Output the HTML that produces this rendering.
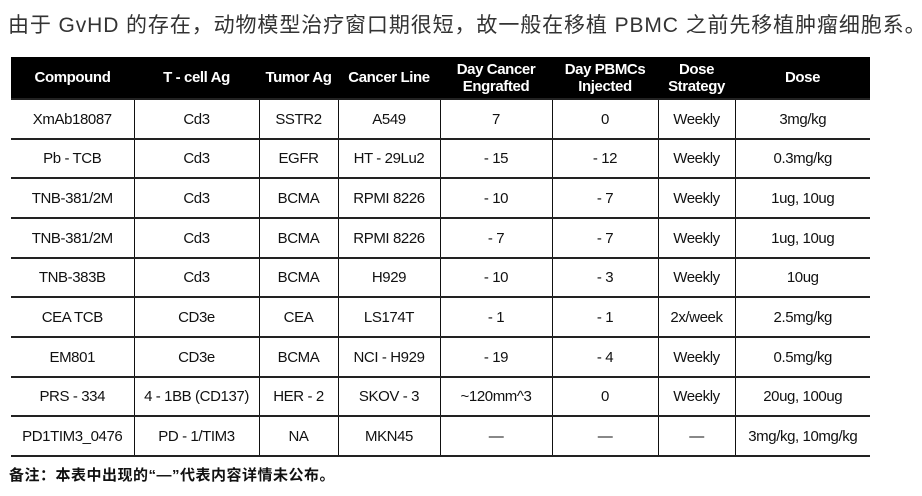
<!DOCTYPE html>
<html><head><meta charset="utf-8"><style>
body{margin:0;width:922px;height:496px;background:#fff;font-family:"Liberation Sans","Noto Sans CJK SC",sans-serif;position:relative;overflow:hidden}
.t{position:absolute;left:8px;top:9px;font-size:21px;color:#333;white-space:nowrap;letter-spacing:0.9px}
table{position:absolute;left:11px;top:57px;border-collapse:collapse;table-layout:fixed;width:859px}
th{background:#000;color:#fff;font-size:15px;font-weight:bold;height:41px;padding:0;line-height:17px;letter-spacing:-0.4px}
td{height:38px;border:1px solid #111;border-top:2px solid #222;text-align:center;font-size:15px;color:#111;padding:0;white-space:nowrap;letter-spacing:-0.4px}
tr.s td{height:37px}
td:first-child{border-left:none}td:last-child{border-right:none}
tr:last-child td{border-bottom:2px solid #222}
.f{position:absolute;left:9px;top:464px;font-size:15px;font-weight:bold;color:#111;letter-spacing:0.5px}
</style></head><body>
<div class="t">由于 GvHD 的存在，动物模型治疗窗口期很短，故一般在移植 PBMC 之前先移植肿瘤细胞系。</div>
<table>
<colgroup><col style="width:123px"><col style="width:125px"><col style="width:79px"><col style="width:102px"><col style="width:112px"><col style="width:106px"><col style="width:77px"><col style="width:135px"></colgroup>
<tr><th>Compound</th><th>T - cell Ag</th><th>Tumor Ag</th><th>Cancer Line</th><th>Day Cancer<br>Engrafted</th><th>Day PBMCs<br>Injected</th><th>Dose<br>Strategy</th><th>Dose</th></tr>
<tr><td>XmAb18087</td><td>Cd3</td><td>SSTR2</td><td>A549</td><td>7</td><td>0</td><td>Weekly</td><td>3mg/kg</td></tr>
<tr class="s"><td>Pb - TCB</td><td>Cd3</td><td>EGFR</td><td>HT - 29Lu2</td><td>- 15</td><td>- 12</td><td>Weekly</td><td>0.3mg/kg</td></tr>
<tr><td>TNB-381/2M</td><td>Cd3</td><td>BCMA</td><td>RPMI 8226</td><td>- 10</td><td>- 7</td><td>Weekly</td><td>1ug, 10ug</td></tr>
<tr><td>TNB-381/2M</td><td>Cd3</td><td>BCMA</td><td>RPMI 8226</td><td>- 7</td><td>- 7</td><td>Weekly</td><td>1ug, 10ug</td></tr>
<tr class="s"><td>TNB-383B</td><td>Cd3</td><td>BCMA</td><td>H929</td><td>- 10</td><td>- 3</td><td>Weekly</td><td>10ug</td></tr>
<tr><td>CEA TCB</td><td>CD3e</td><td>CEA</td><td>LS174T</td><td>- 1</td><td>- 1</td><td>2x/week</td><td>2.5mg/kg</td></tr>
<tr><td>EM801</td><td>CD3e</td><td>BCMA</td><td>NCI - H929</td><td>- 19</td><td>- 4</td><td>Weekly</td><td>0.5mg/kg</td></tr>
<tr class="s"><td>PRS - 334</td><td>4 - 1BB (CD137)</td><td>HER - 2</td><td>SKOV - 3</td><td>~120mm^3</td><td>0</td><td>Weekly</td><td>20ug, 100ug</td></tr>
<tr><td>PD1TIM3_0476</td><td>PD - 1/TIM3</td><td>NA</td><td>MKN45</td><td>—</td><td>—</td><td>—</td><td>3mg/kg, 10mg/kg</td></tr>
</table>
<div class="f">备注：本表中出现的“—”代表内容详情未公布。</div>
</body></html>
